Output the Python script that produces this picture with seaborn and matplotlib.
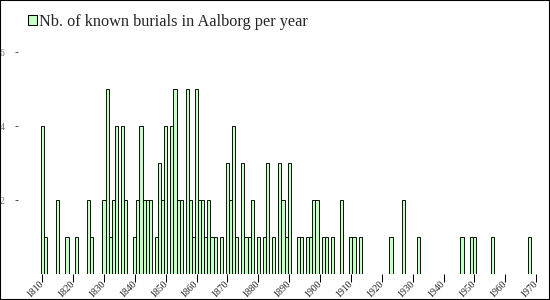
import matplotlib
matplotlib.use("Agg")
import matplotlib.pyplot as plt
from matplotlib.patches import Rectangle
import seaborn as sns
import pandas as pd

years = [1810, 1811, 1815, 1818, 1821, 1825, 1826, 1830, 1831, 1832, 1833, 1834,
         1836, 1837, 1840, 1841, 1842, 1843, 1844, 1845, 1847, 1848, 1849, 1850,
         1852, 1853, 1854, 1855, 1857, 1858, 1859, 1860, 1861, 1862, 1863, 1864,
         1865, 1866, 1868, 1870, 1871, 1872, 1873, 1875, 1876, 1877, 1878, 1880,
         1882, 1883, 1885, 1887, 1888, 1889, 1890, 1893, 1894, 1896, 1897, 1898,
         1899, 1901, 1902, 1904, 1907, 1910, 1911, 1913, 1923, 1927, 1932, 1946,
         1949, 1950, 1956, 1968]
burials = [4, 1, 2, 1, 1, 2, 1, 2, 5, 1, 2, 4,
           4, 2, 1, 2, 4, 2, 2, 2, 1, 3, 2, 4,
           4, 5, 2, 2, 5, 2, 1, 5, 2, 2, 1, 2,
           1, 1, 1, 3, 2, 4, 1, 3, 1, 1, 2, 1,
           1, 3, 1, 3, 2, 1, 3, 1, 1, 1, 1, 2,
           2, 1, 1, 1, 2, 1, 1, 1, 1, 2, 1, 1,
           1, 1, 1, 1]
x_ticks = list(range(1810, 1971, 10))
y_ticks = [2, 4, 6]
legend_label = "Nb. of known burials in Aalborg per year"

sns.set_theme(style="white")
plt.rcParams['font.family'] = ['Liberation Serif', 'DejaVu Serif']

df = pd.DataFrame({"year": years, "burials": burials})

W, H = 550, 300
fig = plt.figure(figsize=(5.5, 3.0), dpi=100)
left_px, right_px = 36.1, 546.9
bottom_px, top_px = 274.0, 33.5
ax = fig.add_axes([left_px / W, 1 - bottom_px / H,
                   (right_px - left_px) / W, (bottom_px - top_px) / H])

sns.barplot(data=df, x="year", y="burials", native_scale=True, width=1.0,
            color="#c4ffc4", saturation=1, edgecolor="black", linewidth=0.65,
            errorbar=None, ax=ax)

ax.set_xlim(1808, 1973.5)
ax.set_ylim(0, 6.5)
ax.set_xlabel("")
ax.set_ylabel("")
for s in ax.spines.values():
    s.set_visible(False)
ax.spines['left'].set_position(('outward', 13))

ax.set_xticks(x_ticks)
ax.set_xticklabels([str(t) for t in x_ticks], rotation=45, ha='right',
                   va='center', rotation_mode='anchor', fontsize=7, color='#222222')
ax.set_yticks(y_ticks)
ax.set_yticklabels([str(t) for t in y_ticks], fontsize=7, color='#777777')
ax.tick_params(axis='x', bottom=True, length=5.5, width=0.75, color='black',
               direction='out', pad=0.5)
ax.tick_params(axis='y', left=True, length=2.2, width=0.75, color='#555555',
               direction='out', pad=7.5)
ax.grid(False)

handle = Rectangle((0, 0), 1, 1, facecolor="#c4ffc4", edgecolor="black", linewidth=0.75)
fig.legend([handle], [legend_label], loc='upper left',
           bbox_to_anchor=(28 / W, 1 - 14 / H), frameon=False, fontsize=11.7,
           handlelength=0.58, handleheight=0.58, handletextpad=0.12, borderpad=0,
           borderaxespad=0)

fig.add_artist(Rectangle((0, 0), 1, 1, transform=fig.transFigure, fill=False,
                         edgecolor='black', linewidth=1.5))

fig.savefig("out.png", dpi=100)
